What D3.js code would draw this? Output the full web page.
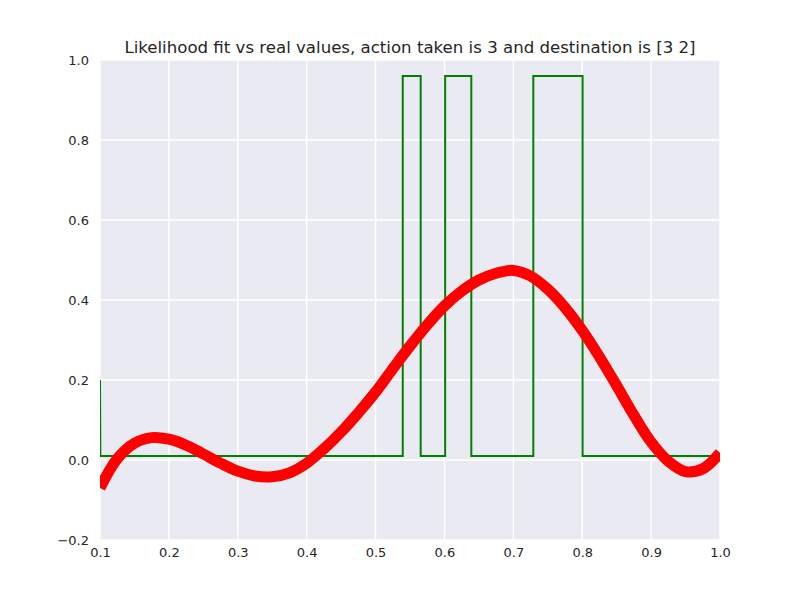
<!DOCTYPE html>
<html>
<head>
<meta charset="utf-8">
<script src="https://cdn.jsdelivr.net/npm/d3@7"></script>
<style>
  body { margin: 0; background: #fff; }
  text { font-family: "DejaVu Sans", sans-serif; fill: #262626; }
</style>
</head>
<body>
<svg id="chart"></svg>
<script>
// Data
const title = "Likelihood fit vs real values, action taken is 3 and destination is [3 2]";

const xTicks = [0.1, 0.2, 0.3, 0.4, 0.5, 0.6, 0.7, 0.8, 0.9, 1.0];
const yTicks = [-0.2, 0.0, 0.2, 0.4, 0.6, 0.8, 1.0];

// real values (green step line)
const realX = [0.1, 0.1005, 0.5395, 0.5395, 0.5655, 0.5655, 0.601, 0.601, 0.639, 0.639, 0.729, 0.729, 0.8005, 0.8005, 1.0];
const realY = [0.2, 0.01, 0.01, 0.96, 0.96, 0.01, 0.01, 0.96, 0.96, 0.01, 0.01, 0.96, 0.96, 0.01, 0.01];

// likelihood fit (red)
const fitX = [0.1, 0.125, 0.15, 0.175, 0.2, 0.225, 0.25, 0.275, 0.3, 0.325, 0.35, 0.375, 0.4,
              0.425, 0.45, 0.475, 0.5, 0.525, 0.55, 0.575, 0.6, 0.625, 0.65, 0.675, 0.7,
              0.725, 0.75, 0.775, 0.8, 0.825, 0.85, 0.875, 0.9, 0.925, 0.95, 0.975, 1.0];
const fitY = [-0.070, 0.003, 0.042, 0.056, 0.052, 0.037, 0.015, -0.008, -0.028, -0.040, -0.042, -0.032, -0.008,
              0.028, 0.070, 0.118, 0.170, 0.228, 0.285, 0.338, 0.385, 0.422, 0.450, 0.467, 0.474,
              0.460, 0.427, 0.381, 0.324, 0.258, 0.186, 0.112, 0.045, -0.003, -0.029, -0.022, 0.018];

const W = 800, H = 600;
const margin = { top: 60, right: 80, bottom: 60, left: 100 };
const width = W - margin.left - margin.right;
const height = H - margin.top - margin.bottom;

const svg = d3.select("#chart").attr("width", W).attr("height", H);

const x = d3.scaleLinear().domain([0.1, 1.0]).range([0, width]);
const y = d3.scaleLinear().domain([-0.2, 1.0]).range([height, 0]);

const g = svg.append("g").attr("transform", `translate(${margin.left},${margin.top})`);

// background
g.append("rect").attr("width", width).attr("height", height).attr("fill", "#EAEAF2");

// grid
g.append("g").selectAll("line").data(xTicks).enter().append("line")
    .attr("x1", d => x(d)).attr("x2", d => x(d))
    .attr("y1", 0).attr("y2", height)
    .attr("stroke", "#fff").attr("stroke-width", 1.5);
g.append("g").selectAll("line").data(yTicks).enter().append("line")
    .attr("x1", 0).attr("x2", width)
    .attr("y1", d => y(d)).attr("y2", d => y(d))
    .attr("stroke", "#fff").attr("stroke-width", 1.5);

// axes (labels only, no spines)
const fmt = d => d3.format(".1f")(d).replace("-", "\u2212");
const xAxis = g.append("g").attr("transform", `translate(0,${height})`)
    .call(d3.axisBottom(x).tickValues(xTicks).tickFormat(fmt).tickSize(0).tickPadding(8));
const yAxis = g.append("g")
    .call(d3.axisLeft(y).tickValues(yTicks).tickFormat(fmt).tickSize(0).tickPadding(11));
[xAxis, yAxis].forEach(a => {
    a.select(".domain").remove();
    a.selectAll("text").attr("font-size", 13).attr("font-family", "DejaVu Sans").attr("fill", "#262626");
});

g.append("clipPath").attr("id", "clip").append("rect")
    .attr("width", width).attr("height", height);

const plot = g.append("g").attr("clip-path", "url(#clip)");

// green line
const realData = realX.map((v, i) => [v, realY[i]]);
plot.append("path")
    .datum(realData)
    .attr("fill", "none")
    .attr("stroke", "#008000")
    .attr("stroke-width", 2)
    .attr("d", d3.line().x(d => x(d[0])).y(d => y(d[1])));

// red fit
const fitData = fitX.map((v, i) => [v, fitY[i]]);
plot.append("path")
    .datum(fitData)
    .attr("fill", "none")
    .attr("stroke", "#ff0000")
    .attr("stroke-width", 11)
    .attr("d", d3.line().curve(d3.curveCatmullRom).x(d => x(d[0])).y(d => y(d[1])));

// title
svg.append("text")
    .attr("x", margin.left + width / 2)
    .attr("y", 53)
    .attr("text-anchor", "middle")
    .attr("font-size", 16.6)
    .text(title);
</script>
</body>
</html>
